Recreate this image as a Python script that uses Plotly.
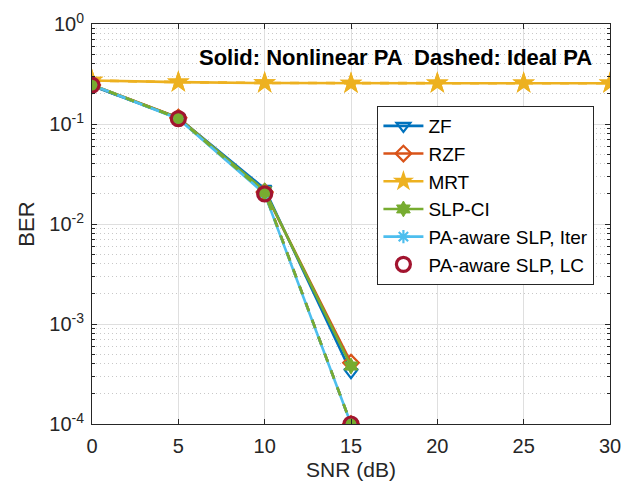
import plotly.graph_objects as go

snr = [0, 5, 10, 15, 20, 25, 30]
snr_low = [0, 5, 10, 15]

# Nonlinear PA (solid)
zf_nl = [0.240, 0.115, 0.0225, 3.3e-4]
rzf_nl = [0.245, 0.116, 0.0210, 4.1e-4]
mrt_nl = [0.272, 0.262, 0.257, 0.255, 0.256, 0.256, 0.256]
slp_nl = [0.245, 0.115, 0.0215, 3.8e-4]
iter_v = [0.245, 0.113, 0.0200, 1.0e-4]
lc_v = [0.245, 0.113, 0.0200, 1.0e-4]

# Ideal PA (dashed)
zf_id = [0.242, 0.114, 0.0205, 1.0e-4]
rzf_id = [0.245, 0.115, 0.0205, 1.0e-4]
mrt_id = [0.272, 0.262, 0.257, 0.255, 0.256, 0.256, 0.256]
slp_id = [0.245, 0.114, 0.0205, 1.0e-4]

names = ["ZF", "RZF", "MRT", "SLP-CI", "PA-aware SLP, Iter", "PA-aware SLP, LC"]
colors = ["#0072BD", "#D95319", "#EDB120", "#77AC30", "#4DBEEE", "#A2142F"]

fig = go.Figure()

def add(x, y, name, color, symbol, size, dash="solid", show=True, mode="lines+markers", lw=2.6, mlw=2.2):
    fig.add_trace(go.Scatter(
        x=x, y=y, name=name, mode=mode, showlegend=show,
        line=dict(color=color, width=lw, dash=dash),
        marker=dict(symbol=symbol, size=size, color=color,
                    line=dict(color=color, width=mlw)),
    ))

# dashed ideal PA
add(snr_low, zf_id, "ZF", colors[0], "triangle-down-open", 12, dash="dash", show=False)
add(snr_low, rzf_id, "RZF", colors[1], "diamond-open", 12, dash="dash", show=False)
add(snr, mrt_id, "MRT", colors[2], "star", 17, dash="dash", show=False, mlw=0)

# solid nonlinear PA
add(snr_low, zf_nl, names[0], colors[0], "triangle-down-open", 12)
add(snr_low, rzf_nl, names[1], colors[1], "diamond-open", 12)
add(snr, mrt_nl, names[2], colors[2], "star", 17, mlw=0)
add(snr_low, slp_nl, names[3], colors[3], "hexagram", 12, mlw=1)
add(snr_low, iter_v, names[4], colors[4], "asterisk-open", 11)
add(snr_low, slp_id, "SLP-CI", colors[3], "hexagram", 12, dash="dash", show=False, mlw=1)
add(snr_low, lc_v, names[5], colors[5], "circle-open", 14, mode="markers", mlw=3.2)

tickvals = [1e-4, 1e-3, 1e-2, 1e-1, 1]
ticktext = ["10<sup>-4</sup>", "10<sup>-3</sup>", "10<sup>-2</sup>", "10<sup>-1</sup>", "10<sup>0</sup>"]

fig.update_layout(
    width=631, height=489,
    margin=dict(l=92, r=10, t=15, b=65),
    paper_bgcolor="white", plot_bgcolor="white",
    font=dict(family="Liberation Sans, Arial, sans-serif", size=20, color="#262626"),
    legend=dict(
        x=0.551, y=0.795, xanchor="left", yanchor="top",
        bgcolor="white", bordercolor="#262626", borderwidth=1,
        font=dict(size=19, color="black"),
        tracegroupgap=0, itemwidth=40,
    ),
    annotations=[dict(
        x=17.55, y=0.917, xref="x", yref="paper", yanchor="middle",
        text="<b>Solid: Nonlinear PA  Dashed: Ideal PA</b>", showarrow=False,
        font=dict(size=22, color="black"),
    )],
)

fig.update_xaxes(
    range=[0, 30], tickvals=[0, 5, 10, 15, 20, 25, 30],
    title=dict(text="SNR (dB)", font=dict(size=21), standoff=6),
    tickfont=dict(size=20), ticklabelstandoff=4, ticklabeloverflow="allow",
    showgrid=True, gridcolor="#DFDFDF", gridwidth=1,
    showline=True, linecolor="#262626", linewidth=1, mirror="ticks",
    ticks="inside", ticklen=5, tickcolor="#262626", zeroline=False,
)
fig.update_yaxes(
    type="log", range=[-4, 0], tickvals=tickvals, ticktext=ticktext,
    title=dict(text="BER", font=dict(size=22), standoff=8),
    tickfont=dict(size=20), ticklabelstandoff=3, ticklabeloverflow="allow",
    showgrid=True, gridcolor="#DFDFDF", gridwidth=1,
    showline=True, linecolor="#262626", linewidth=1, mirror="ticks",
    ticks="inside", ticklen=5, tickcolor="#262626", zeroline=False,
    minor=dict(showgrid=True, gridcolor="#C8C8C8", griddash="1px,3px", gridwidth=1,
               ticks="inside", ticklen=3, tickcolor="#262626",
               tickvals=[m * 10**e for e in range(-4, 0) for m in range(2, 10)]),
)

fig.write_html("out.html")
